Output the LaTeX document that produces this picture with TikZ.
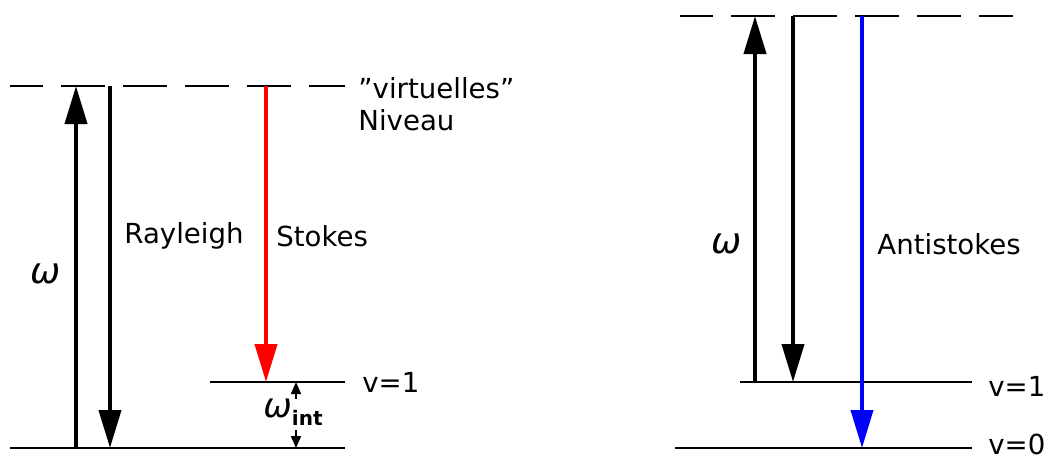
\documentclass[tikz,border=0pt]{standalone}
\usepackage{fontspec}
\setmainfont{DejaVu Sans}
\usetikzlibrary{arrows.meta}
\tikzset{
  level/.style={line width=1.3pt},
  virtual/.style={line width=1.3pt, dash pattern=on 22pt off 9pt, dash phase=5.5pt},
  trans/.style={line width=2pt, -{Triangle[length=19pt,width=11pt]}},
  gap/.style={line width=0.9pt, -{Triangle[length=6pt,width=5pt]}},
  lbl/.style={font=\fontsize{13.8pt}{16pt}\selectfont, inner sep=0pt},
  om/.style={font=\fontsize{18pt}{20pt}\selectfont\itshape, inner sep=0pt}
}
\begin{document}
\begin{tikzpicture}[x=0.5pt, y=-0.5pt]
\useasboundingbox (0,0) rectangle (1051,461);

% ---------- Rayleigh and Stokes scattering ----------
\coordinate (Lv0a) at (10,448);   \coordinate (Lv0b) at (345,448);
\coordinate (Lv1a) at (210,382);  \coordinate (Lv1b) at (345,382);
\coordinate (Lvra) at (10,86);    \coordinate (Lvrb) at (345,86);
\draw[level] (Lv0a) -- (Lv0b);
\draw[level] (Lv1a) -- (Lv1b);
\draw[virtual] (Lvra) -- (Lvrb);

\coordinate (Aup0) at (76,448);  \coordinate (Aup1) at (76,86);
\coordinate (Ray0) at (110,86);  \coordinate (Ray1) at (110,448);
\coordinate (Sto0) at (266,86);  \coordinate (Sto1) at (266,382);
\draw[trans] (Aup0) -- (Aup1);
\draw[trans] (Ray0) -- (Ray1);
\draw[trans, red] (Sto0) -- (Sto1);

\node[om] (omL) at (46,274) {ω};
\node[lbl, anchor=west] (ray) at (124,236) {Rayleigh};
\node[lbl, anchor=west] (sto) at (276,236) {Stokes};
\node[lbl, anchor=west] (virt) at (358,88) {”virtuelles”};
\node[lbl, anchor=west] (niv) at (358,120) {Niveau};
\node[lbl, anchor=west] (v1L) at (362,382) {v=1};

\node[inner sep=0pt] (wint) at (293,412)
  {\fontsize{17pt}{18pt}\selectfont\itshape ω\upshape\raisebox{-0.45ex}{\fontsize{10pt}{11pt}\selectfont\bfseries int}};
\coordinate (g1a) at (296,399); \coordinate (g1b) at (296,382);
\coordinate (g2a) at (296,430); \coordinate (g2b) at (296,448);
\draw[gap] (g1a) -- (g1b);
\draw[gap] (g2a) -- (g2b);

% ---------- anti-Stokes scattering ----------
\coordinate (Rv0a) at (675,448);  \coordinate (Rv0b) at (972,448);
\coordinate (Rv1a) at (740,382);  \coordinate (Rv1b) at (972,382);
\coordinate (Rvra) at (680,16);   \coordinate (Rvrb) at (1013,16);
\draw[level] (Rv0a) -- (Rv0b);
\draw[level] (Rv1a) -- (Rv1b);
\draw[virtual] (Rvra) -- (Rvrb);

\coordinate (Bup0) at (755,382);  \coordinate (Bup1) at (755,16);
\coordinate (Bdn0) at (793,16);   \coordinate (Bdn1) at (793,382);
\coordinate (Ant0) at (862,16);   \coordinate (Ant1) at (862,448);
\draw[trans] (Bup0) -- (Bup1);
\draw[trans] (Bdn0) -- (Bdn1);
\draw[trans, blue] (Ant0) -- (Ant1);

\node[om] (omR) at (727,244) {ω};
\node[lbl, anchor=west] (ant) at (877,244) {Antistokes};
\node[lbl, anchor=west] (v1R) at (988,386) {v=1};
\node[lbl, anchor=west] (v0R) at (988,444) {v=0};
\end{tikzpicture}
\end{document}
